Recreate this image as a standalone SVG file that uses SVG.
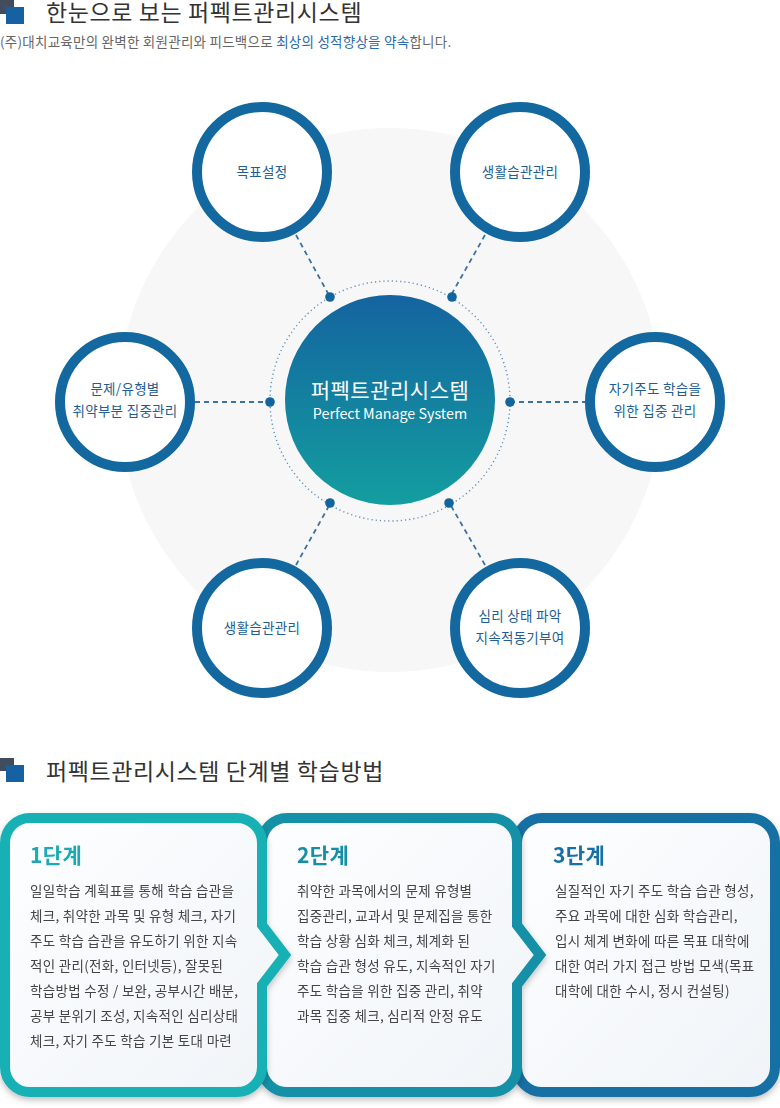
<svg xmlns="http://www.w3.org/2000/svg" width="780" height="1108" viewBox="0 0 780 1108">
<style>
text{font-family:"Noto Sans CJK KR","Noto Sans",sans-serif}
.h{font-size:23px;fill:#333;letter-spacing:0.6px}
.sub{font-size:13.5px;fill:#666;letter-spacing:0.25px}
.hl{fill:#2a6aa9}
.node{fill:#fff;stroke:#13689f;stroke-width:10}
.nt{font-size:13.5px;fill:#235d91;text-anchor:middle;letter-spacing:0.3px}
.dash{stroke:#3a72a5;stroke-width:1.8;stroke-dasharray:5 4;fill:none}
.dot{fill:#13659f}
.ct{fill:#fff;text-anchor:middle}
.card{stroke-width:10;stroke-linejoin:miter;stroke-miterlimit:10;fill:url(#cardFill)}
.ctitle{font-size:21px;font-weight:bold;letter-spacing:0.4px}
.body{font-size:13.5px;fill:#444;letter-spacing:0.3px}
</style>
<defs>
<linearGradient id="centerGrad" x1="0" y1="0" x2="0" y2="1">
<stop offset="0" stop-color="#14649f"/>
<stop offset="1" stop-color="#139ea0"/>
</linearGradient>
<linearGradient id="cardFill" x1="0" y1="0" x2="1" y2="1">
<stop offset="0" stop-color="#fdfeff"/>
<stop offset="1" stop-color="#f0f4f8"/>
</linearGradient>
<filter id="shadow" x="-10%" y="-10%" width="120%" height="125%">
<feDropShadow dx="0" dy="3" stdDeviation="3" flood-color="#000" flood-opacity="0.25"/>
</filter>
</defs>

<g id="header1">
<rect x="0" y="0" width="14" height="14" fill="#414c5c"/>
<rect x="6" y="7" width="18" height="17" fill="#1661a1"/>
<text class="h" x="46" y="21">한눈으로 보는 퍼펙트관리시스템</text>
<text class="sub" x="0" y="47">(주)대치교육만의 완벽한 회원관리와 피드백으로 <tspan class="hl">최상의 성적향상을 약속</tspan>합니다.</text>
</g>

<circle id="bg" cx="390" cy="400" r="272" fill="#f7f7f8"/>

<g id="connectors">
<circle cx="390" cy="401" r="120" fill="none" stroke="#5b8fc0" stroke-width="1.4" stroke-dasharray="1.2 3"/>
<line class="dash" x1="296" y1="235" x2="330" y2="297"/>
<line class="dash" x1="485" y1="235" x2="450" y2="297"/>
<line class="dash" x1="195" y1="402" x2="270" y2="402"/>
<line class="dash" x1="510" y1="402" x2="585" y2="402"/>
<line class="dash" x1="296" y1="565" x2="330" y2="504"/>
<line class="dash" x1="485" y1="565" x2="450" y2="504"/>
<circle class="dot" cx="330" cy="297" r="4.8"/>
<circle class="dot" cx="452" cy="297" r="4.8"/>
<circle class="dot" cx="270" cy="402" r="4.8"/>
<circle class="dot" cx="510" cy="402" r="4.8"/>
<circle class="dot" cx="330" cy="503" r="4.8"/>
<circle class="dot" cx="449" cy="503" r="4.8"/>
</g>

<g id="center">
<circle cx="390" cy="400" r="105" fill="url(#centerGrad)"/>
<text class="ct" x="390" y="398" font-size="21" letter-spacing="0.5">퍼펙트관리시스템</text>
<text class="ct" x="390" y="419" font-size="14.3">Perfect Manage System</text>
</g>

<g id="node-goal">
<circle class="node" cx="262" cy="172" r="65"/>
<text class="nt" x="262" y="177">목표설정</text>
</g>
<g id="node-habit1">
<circle class="node" cx="520" cy="172" r="65"/>
<text class="nt" x="520" y="177">생활습관관리</text>
</g>
<g id="node-weak">
<circle class="node" cx="125" cy="402" r="65"/>
<text class="nt" x="125" y="394">문제/유형별</text>
<text class="nt" x="125" y="416">취약부분 집중관리</text>
</g>
<g id="node-self">
<circle class="node" cx="655" cy="402" r="65"/>
<text class="nt" x="655" y="394">자기주도 학습을</text>
<text class="nt" x="655" y="416">위한 집중 관리</text>
</g>
<g id="node-habit2">
<circle class="node" cx="262" cy="628" r="65"/>
<text class="nt" x="262" y="633">생활습관관리</text>
</g>
<g id="node-mind">
<circle class="node" cx="520" cy="628" r="65"/>
<text class="nt" x="520" y="621">심리 상태 파악</text>
<text class="nt" x="520" y="643">지속적동기부여</text>
</g>

<g id="header2">
<rect x="0" y="758" width="14" height="13" fill="#414c5c"/>
<rect x="6" y="765" width="18" height="17" fill="#1661a1"/>
<text class="h" x="46" y="780">퍼펙트관리시스템 단계별 학습방법</text>
</g>

<g id="step3" filter="url(#shadow)">
<path class="card" stroke="#1570a4" d="M542,818 H750 A25,25 0 0 1 775,843 V1067 A25,25 0 0 1 750,1092 H542 A25,25 0 0 1 517,1067 V843 A25,25 0 0 1 542,818 Z"/>
<text class="ctitle" x="553" y="863" fill="#1670a5">3단계</text>
<text class="body" x="555" y="896">실질적인 자기 주도 학습 습관 형성,</text>
<text class="body" x="555" y="921">주요 과목에 대한 심화 학습관리,</text>
<text class="body" x="555" y="946">입시 체계 변화에 따른 목표 대학에</text>
<text class="body" x="555" y="971">대한 여러 가지 접근 방법 모색(목표</text>
<text class="body" x="555" y="996">대학에 대한 수시, 정시 컨설팅)</text>
</g>

<g id="step2" filter="url(#shadow)">
<path class="card" stroke="#1590a6" d="M287,818 H492 A25,25 0 0 1 517,843 V925 L540,955 L517,985 V1067 A25,25 0 0 1 492,1092 H287 A25,25 0 0 1 262,1067 V843 A25,25 0 0 1 287,818 Z"/>
<text class="ctitle" x="297" y="863" fill="#168ea5">2단계</text>
<text class="body" x="297" y="896">취약한 과목에서의 문제 유형별</text>
<text class="body" x="297" y="921">집중관리, 교과서 및 문제집을 통한</text>
<text class="body" x="297" y="946">학습 상황 심화 체크, 체계화 된</text>
<text class="body" x="297" y="971">학습 습관 형성 유도, 지속적인 자기</text>
<text class="body" x="297" y="996">주도 학습을 위한 집중 관리, 취약</text>
<text class="body" x="297" y="1021">과목 집중 체크, 심리적 안정 유도</text>
</g>

<g id="step1" filter="url(#shadow)">
<path class="card" stroke="#19b0b5" d="M30,818 H237 A25,25 0 0 1 262,843 V925 L285,955 L262,985 V1067 A25,25 0 0 1 237,1092 H30 A25,25 0 0 1 5,1067 V843 A25,25 0 0 1 30,818 Z"/>
<text class="ctitle" x="30" y="863" fill="#1aa9b4">1단계</text>
<text class="body" x="30" y="896">일일학습 계획표를 통해 학습 습관을</text>
<text class="body" x="30" y="921">체크, 취약한 과목 및 유형 체크, 자기</text>
<text class="body" x="30" y="946">주도 학습 습관을 유도하기 위한 지속</text>
<text class="body" x="30" y="971">적인 관리(전화, 인터넷등), 잘못된</text>
<text class="body" x="30" y="996">학습방법 수정 / 보완, 공부시간 배분,</text>
<text class="body" x="30" y="1021">공부 분위기 조성, 지속적인 심리상태</text>
<text class="body" x="30" y="1046">체크, 자기 주도 학습 기본 토대 마련</text>
</g>
</svg>
